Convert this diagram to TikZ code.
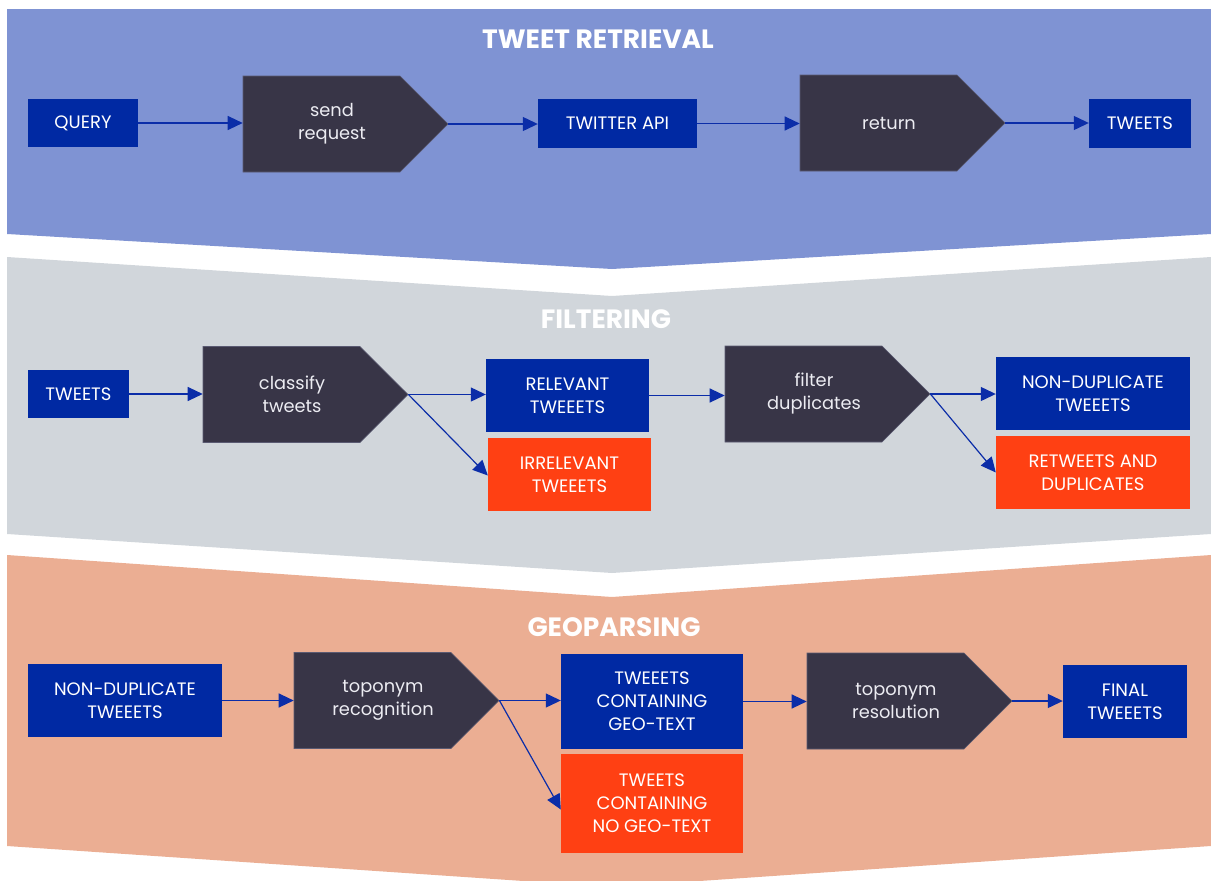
\documentclass[tikz,border=0pt]{standalone}
\usepackage{fontspec}
\setmainfont{Poppins}
\usetikzlibrary{shapes.symbols,arrows.meta,calc}
\definecolor{bandblue}{HTML}{7F93D3}
\definecolor{bandgrey}{HTML}{D1D6DB}
\definecolor{bandsalmon}{HTML}{EBAE93}
\definecolor{dblue}{HTML}{0029A3}
\definecolor{orng}{HTML}{FF4013}
\definecolor{pent}{HTML}{383547}
\definecolor{pentedge}{HTML}{5A5A72}
\definecolor{ptext}{HTML}{ECECF2}
\definecolor{arrowc}{HTML}{0B2DA8}
\tikzset{
  bluebox/.style={fill=dblue, text=white, font=\fontsize{18}{23}\selectfont, align=center, inner sep=0pt},
  redbox/.style={bluebox, fill=orng},
  penta/.style={signal, signal to=east, signal pointer angle=90, fill=pent, draw=pentedge, line width=0.6pt,
     inner sep=0pt, minimum height=96, minimum width=205},
  pentext/.style={text=ptext, font=\fontsize{17.8}{23}\selectfont, align=center, inner sep=0pt, xshift=10.5},
  flow/.style={-{Triangle[length=15pt,width=14pt]}, draw=arrowc, line width=1.2pt},
  bandtitle/.style={text=white, font=\bfseries\fontsize{26.5}{30}\selectfont, anchor=base}
}
\begin{document}
\begin{tikzpicture}[x=1pt,y=-1pt]
\useasboundingbox (0,0) rectangle (1211,881);
\begin{scope}
\clip (0,0) rectangle (1211,881);
% bands
\fill[bandblue] (7,9) -- (1211,9) -- (1211,234) -- (612,269) -- (7,234) -- cycle;
\fill[bandgrey] (7,257) -- (612,296) -- (1211,257) -- (1211,534) -- (612,573) -- (7,534) -- cycle;
\fill[bandsalmon] (7,555) -- (612,597) -- (1211,555) -- (1211,846) -- (612,887) -- (7,846) -- cycle;
\end{scope}

% titles
\node[bandtitle] (t1) at (598,48) {TWEET RETRIEVAL};
\node[bandtitle] (t2) at (606,328) {FILTERING};
\node[bandtitle] (t3) at (614,636) {GEOPARSING};

% row 1
\node[bluebox, minimum width=110, minimum height=48] (query) at (83,123) {QUERY};
\node[penta, label={[pentext]center:{send\\request}}] (send) at (321.5,124) {};
\node[bluebox, minimum width=159, minimum height=49] (api) at (617.5,123.5) {TWITTER API};
\node[penta, label={[pentext]center:{return}}] (ret) at (878.5,123) {};
\node[bluebox, minimum width=102, minimum height=49] (tw1) at (1140,123.5) {TWEETS};

% row 2
\node[bluebox, minimum width=101, minimum height=48] (tw2) at (78.5,394) {TWEETS};
\node[penta, label={[pentext]center:{classify\\tweets}}] (classify) at (281.5,394.5) {};
\node[bluebox, minimum width=163, minimum height=73] (rel) at (567.5,395.5) {RELEVANT\\TWEEETS};
\node[redbox, minimum width=163, minimum height=73] (irr) at (569.5,474.5) {IRRELEVANT\\TWEEETS};
\node[penta, label={[pentext]center:{filter\\duplicates}}] (filter) at (803.5,394) {};
\node[bluebox, minimum width=194, minimum height=73] (nd2) at (1093,393.5) {NON-DUPLICATE\\TWEEETS};
\node[redbox, minimum width=194, minimum height=73] (rtw) at (1093,472.5) {RETWEETS AND\\DUPLICATES};

% row 3
\node[bluebox, minimum width=194, minimum height=73] (nd3) at (125,700.5) {NON-DUPLICATE\\TWEEETS};
\node[penta, label={[pentext]center:{toponym\\recognition}}] (recog) at (372.5,700.5) {};
\node[bluebox, minimum width=182, minimum height=95] (geo) at (652,701.5) {TWEEETS\\CONTAINING\\GEO-TEXT};
\node[redbox, minimum width=182, minimum height=99] (nogeo) at (652,803.5) {TWEETS\\CONTAINING\\NO GEO-TEXT};
\node[penta, label={[pentext]center:{toponym\\resolution}}] (resol) at (885.5,701) {};
\node[bluebox, minimum width=124, minimum height=73] (final) at (1125,701.5) {FINAL\\TWEEETS};

% connectors row 1
\draw[flow] (query.east) -- (query.east -| send.west);
\draw[flow] (send.east) -- (send.east -| api.west);
\draw[flow] (api.east) -- (api.east -| ret.west);
\draw[flow] (ret.east) -- (ret.east -| tw1.west);
% row 2
\draw[flow] (tw2.east) -- (tw2.east -| classify.west);
\draw[flow] (classify.east) -- (classify.east -| rel.west);
\draw[flow] (classify.east) -- ([yshift=-1]irr.west);
\draw[flow] (rel.east) -- (rel.east -| filter.west);
\draw[flow] (filter.east) -- (filter.east -| nd2.west);
\draw[flow] (filter.east) -- (rtw.west);
% row 3
\draw[flow] (nd3.east) -- (nd3.east -| recog.west);
\draw[flow] (recog.east) -- (recog.east -| geo.west);
\draw[flow] (recog.east) -- ([yshift=-6]nogeo.west);
\draw[flow] (geo.east) -- (geo.east -| resol.west);
\draw[flow] (resol.east) -- (resol.east -| final.west);
\end{tikzpicture}
\end{document}
